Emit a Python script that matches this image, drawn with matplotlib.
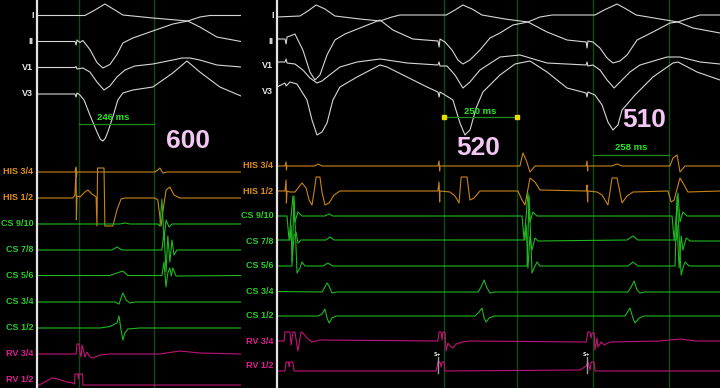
import matplotlib.pyplot as plt

# ---- channels (slot = row position, rows 4 and 5 are left empty) ----
labels = ['I', 'II', 'V1', 'V3', 'HIS 3/4', 'HIS 1/2', 'CS 9/10', 'CS 7/8',
          'CS 5/6', 'CS 3/4', 'CS 1/2', 'RV 3/4', 'RV 1/2']
slots = [0, 1, 2, 3, 6, 7, 8, 9, 10, 11, 12, 13, 14]

# ---- left panel traces: (time ms, amplitude a.u.) ----
L_I = [(0, 0), (163, 0), (197, 5.5), (231, 11.5), (265, 5.5), (292, 0.5), (394, -2.5),
       (513, -5.5), (554, -1.5), (588, 0), (694, 0)]
L_II = [(0, 0), (129, 0), (133, -3.5), (136, 1.5), (146, -1), (156, 1), (180, -8), (204, -21),
        (224, -26.5), (248, -23), (272, -13), (292, -1.5), (326, 3.5), (394, 10.5), (462, 17.5),
        (513, 20.5), (554, 14.5), (612, 4.5), (694, 0)]
L_V1 = [(0, 0), (129, 0), (133, 1), (136, -1.5), (156, -0.5), (180, -4.5), (204, -14.5),
        (228, -22.5), (248, -18.5), (272, -9.5), (299, -2.5), (333, 1.5), (394, 3.5), (462, 7.5),
        (493, 9.5), (520, 9.5), (554, 7.5), (612, 2.5), (694, 0.5)]
L_V3 = [(0, -0.5), (129, -0.5), (133, -3.5), (136, 0.5), (146, -1.5), (160, -6.5), (180, -21.5),
        (204, -38.5), (216, -46), (224, -47.5), (232, -45), (241, -38.5), (258, -23.5),
        (275, -6.5), (292, 0.5), (326, 3.5), (394, 6.5), (462, 20.5), (510, 32.5), (554, 21.5),
        (622, 6.5), (694, -2.5)]
L_HIS34 = [(0, -0.5), (129, -0.5), (133, 4.5), (134, -5.5), (136, -0.5), (401, -0.5),
           (411, 1.5), (418, 3.5), (428, -1.5), (442, -0.5), (694, -0.5)]
L_HIS12 = [(0, -0.5), (122, -0.5), (129, 2.5), (133, 29.5), (134, -22.5), (136, 1.5),
           (146, 0.5), (163, 5.5), (173, 7.5), (187, 3.5), (201, 0.5), (204, -28.5),
           (206, 29.5), (228, 29.5), (231, -28.5), (258, -28.5), (272, -12.5), (286, -1.5),
           (299, -0.5), (401, -0.5), (411, -2.5), (422, -28.5), (428, -14.5), (439, 7.5),
           (452, 10.5), (466, 2.5), (486, -0.5), (694, -0.5)]
L_CS910 = [(0, -0.5), (282, -0.5), (299, 0.5), (316, -0.5), (411, -0.5), (418, -2.5),
           (425, 24.5), (432, -16.5), (439, 3.5), (449, -3.5), (459, -0.5), (694, -0.5)]
L_CS78 = [(0, -0.5), (255, -0.5), (272, 2.5), (289, -0.5), (425, -0.5), (432, 17.5),
          (439, -22.5), (445, 13.5), (452, -12.5), (459, 9.5), (466, -5.5), (476, -0.5),
          (694, -0.5)]
L_CS56 = [(0, 0), (248, 0), (272, 2.5), (292, 4.5), (309, 0), (425, 0), (432, 13.5),
          (439, -11.5), (445, 2.5), (452, 7.5), (457, -0.5), (462, 7.5), (473, -0.5), (694, 0)]
L_CS34 = [(0, -0.5), (265, -0.5), (279, -2.5), (292, 8.5), (303, 1.5), (316, -1.5),
          (333, -0.5), (694, -0.5)]
L_CS12 = [(0, -0.5), (214, -0.5), (248, 1), (272, 4.5), (279, 11.5), (286, -2.5),
          (292, -12.5), (299, -5.5), (309, -1.5), (350, -0.5), (694, -0.5)]
L_RV34 = [(0, -0.5), (133, -0.5), (136, 9.5), (143, 9.5), (146, 1.5), (150, -3.5), (153, 8.5),
          (158, 3.5), (163, -3.5), (170, 1.5), (180, -3.5), (190, -4.5), (214, -1.5),
          (248, -0.5), (418, -0.5), (486, 2.5), (554, 0.5), (694, -0.5)]
L_RV12 = [(0, -6.5), (20, -3.5), (51, 1.5), (71, 0.5), (102, -2.5), (122, -3.5), (128, -4.5),
          (129, 5.5), (139, 5.5), (141, 0.5), (143, 5.5), (155, 5.5), (156, -5.5), (694, -5.5)]

# ---- right panel traces ----
R_I = [(0, -1), (78, 0), (105, 5), (133, 11), (163, 7), (197, 0), (282, -3), (350, -5),
       (391, -1), (418, 1), (575, 1), (605, 6), (632, 11), (663, 7), (697, 1), (775, -3),
       (853, -6), (894, -1), (935, 1), (1081, 1), (1112, 6), (1156, 12), (1187, 7), (1221, 1),
       (1302, -3), (1363, -6), (1404, -2), (1438, 1), (1506, 1)]
R_II = [(0, 2), (27, 2), (31, -3), (34, 4), (44, 5), (61, 7), (88, -9), (112, -31), (129, -39),
        (146, -34), (170, -14), (197, 1), (231, 7), (282, 13), (350, 21), (394, 11), (462, 2),
        (547, 0), (551, -6), (554, 2), (571, -1), (595, -9), (615, -19), (632, -23),
        (656, -19), (690, -9), (724, 3), (758, 8), (802, 16), (853, 19), (918, 9), (986, 1),
        (1051, -1), (1054, -7), (1057, 0), (1074, -1), (1098, -7), (1122, -17), (1142, -22),
        (1166, -20), (1190, -14), (1224, 1), (1278, 9), (1336, 18), (1363, 19), (1414, 13),
        (1506, 8)]
R_V1 = [(0, 4), (27, 4), (31, 7), (34, 3), (61, 2), (88, -4), (112, -12), (136, -17),
        (153, -15), (170, -11), (214, -1), (272, 4), (350, 7), (374, 6), (442, 3), (547, 1),
        (551, 4), (554, 0), (578, 0), (605, -9), (632, -22), (656, -16), (690, -4), (758, 9),
        (826, 11), (918, 3), (1051, 1), (1054, 4), (1057, 0), (1074, 1), (1098, -4),
        (1122, -14), (1146, -22), (1173, -14), (1200, -6), (1234, 1), (1326, 9), (1370, 9),
        (1438, 4), (1506, 2)]
R_V3 = [(0, 4), (27, 8), (31, 5), (44, 9), (68, 7), (102, -9), (119, -29), (136, -44),
        (153, -41), (170, -32), (190, -9), (214, 4), (272, 14), (350, 26), (374, 24), (442, 14),
        (510, 4), (547, -1), (551, -6), (554, -1), (571, -4), (598, -9), (622, -32), (639, -44),
        (656, -39), (677, -17), (700, -1), (758, 16), (809, 27), (860, 30), (918, 19), (986, 3),
        (1051, -2), (1054, -6), (1057, -1), (1081, -4), (1105, -14), (1125, -31), (1142, -39),
        (1159, -34), (1173, -19), (1217, -4), (1278, 14), (1346, 28), (1363, 29), (1428, 19),
        (1506, 11)]
R_HIS34 = [(0, 0), (27, 0), (31, 4), (32, -4), (34, 0), (129, 0), (139, 2), (153, 0), (547, 0),
           (551, 5), (553, -5), (554, 0), (826, 0), (836, 13), (847, 6), (860, -6), (877, 0),
           (1051, 0), (1054, 5), (1056, -5), (1057, 0), (1139, 0), (1156, 2), (1173, 0),
           (1336, 0), (1346, 8), (1360, 11), (1370, -6), (1387, 0), (1506, 0)]
R_HIS12 = [(0, 0), (27, 0), (31, 11), (32, -12), (34, 0), (44, -1), (61, -1), (85, 8), (99, 3),
           (109, -9), (119, -14), (129, 5), (133, 14), (146, 14), (153, -1), (163, -14),
           (177, -12), (194, -4), (214, 0), (547, 0), (551, 9), (553, -11), (554, 0), (588, -1),
           (605, -5), (619, -12), (626, 14), (646, 14), (656, -9), (670, -7), (690, 0), (819, 0),
           (833, -9), (843, -14), (860, 13), (877, 9), (894, 1), (1051, 0), (1054, 6),
           (1056, -11), (1057, 0), (1088, -1), (1105, -4), (1125, -14), (1139, 13), (1156, 13),
           (1173, -12), (1190, -5), (1210, -1), (1329, 0), (1340, -11), (1350, -9), (1370, 13),
           (1384, 6), (1397, -1), (1506, 0)]
R_CS910 = [(0, 0), (34, 0), (41, -24), (48, 0), (54, 20), (61, -6), (71, 4), (85, 0), (163, 0),
           (177, 2), (190, 0), (833, 0), (840, -24), (847, 0), (853, 23), (860, -6), (870, 4),
           (884, 0), (1343, 0), (1350, -24), (1357, 0), (1363, 23), (1370, -6), (1380, 4),
           (1394, 0), (1506, 0)]
R_CS78 = [(0, 1), (44, 1), (48, 16), (51, -21), (58, 5), (65, 9), (71, -2), (82, 1), (167, 1),
          (180, 4), (194, 1), (843, 1), (847, 16), (853, -27), (860, 5), (867, -9), (877, 3),
          (887, 0), (1190, 1), (1210, 5), (1227, 1), (1357, 1), (1360, 16), (1367, -27),
          (1374, 5), (1380, -9), (1391, 3), (1404, 0), (1506, 0)]
R_CS56 = [(0, 0), (51, 0), (58, 70), (68, -7), (78, -2), (85, 4), (95, 0), (156, 0), (173, 3),
          (190, 0), (850, 0), (857, 70), (867, -7), (874, -2), (884, 4), (894, 0), (1193, 0),
          (1210, 4), (1227, 0), (1353, 0), (1360, 70), (1374, -9), (1380, -2), (1387, 4),
          (1401, 0), (1506, 0)]
R_CS34 = [(0, -0.5), (153, -1), (163, 4), (170, 8), (177, 5), (187, -2), (201, -1), (683, -1),
          (694, 4), (704, 11), (714, 3), (724, -2), (741, -1), (1193, -1), (1204, 4), (1214, 10),
          (1224, 1), (1234, -2), (1251, -1), (1506, -1)]
R_CS12 = [(0, 0), (139, 0), (153, 2), (163, 7), (170, -2), (177, -7), (187, -2), (201, 0),
          (673, 0), (687, 4), (697, 8), (704, -2), (711, -6), (721, -2), (738, 0), (1183, 0),
          (1200, 8), (1210, -2), (1217, -7), (1231, -2), (1248, 0), (1506, 0)]
R_RV34 = [(0, 0), (24, 0), (27, 9), (44, 9), (48, -4), (54, 9), (61, 9), (71, -10), (82, 9),
          (88, 8), (102, 3), (119, -1), (146, 1), (547, 0), (551, 9), (558, 9), (561, 1), (564, 9),
          (571, 9), (575, -10), (581, -2), (588, -5), (598, -7), (609, -3), (629, -1), (656, 0),
          (1051, -1), (1057, 9), (1064, 9), (1068, 3), (1071, 8), (1078, 8), (1081, -9),
          (1088, 3), (1091, -6), (1102, -1), (1112, -4), (1132, -1), (1302, 0), (1370, 2),
          (1421, 0), (1506, 0)]
R_RV12 = [(0, -5), (27, -5), (31, 4), (39, 4), (41, -1), (44, 4), (54, 4), (58, -5), (541, -5),
          (547, 4), (554, 4), (558, -1), (561, 4), (568, 4), (571, -5), (1030, -4), (1051, 0),
          (1057, 4), (1064, -4), (1068, 4), (1078, 4), (1081, -5), (1506, -5)]

left_traces = [L_I, L_II, L_V1, L_V3, L_HIS34, L_HIS12, L_CS910, L_CS78, L_CS56, L_CS34,
               L_CS12, L_RV34, L_RV12]
right_traces = [R_I, R_II, R_V1, R_V3, R_HIS34, R_HIS12, R_CS910, R_CS78, R_CS56, R_CS34,
                R_CS12, R_RV34, R_RV12]

# calipers / markers (ms)
left_marks = [143, 398]
right_marks = [568, 816, 1074, 1333]
pace_times = [547, 1054]

trace_col = {'ECG': '#d6d6d6', 'HIS': '#c98418', 'CS': '#1fb81f', 'RV': '#bf1477'}
label_col = {'ECG': '#e8e8e8', 'HIS': '#e0901c', 'CS': '#2ccc2c', 'RV': '#dd2090'}


def group(name):
    if name.startswith('HIS'):
        return 'HIS'
    if name.startswith('CS'):
        return 'CS'
    if name.startswith('RV'):
        return 'RV'
    return 'ECG'


fig = plt.figure(figsize=(7.2, 3.88), dpi=100, facecolor='black')
ax_l = fig.add_axes([37 / 720, 0, 204 / 720, 1])
ax_r = fig.add_axes([277 / 720, 0, 443 / 720, 1])


def setup(ax, tmax, first, spacing, traces, marks):
    ax.set_facecolor('black')
    ax.set_xlim(0, tmax)
    ax.set_ylim(-388, 0)
    ax.set_xticks([])
    ax.set_yticks([])
    for s in ['top', 'right', 'bottom']:
        ax.spines[s].set_visible(False)
    ax.spines['left'].set_color('#e4e4e4')
    ax.spines['left'].set_linewidth(1.6)
    for m in marks:
        ax.axvline(m, color='#0d4f0d', lw=1.0, zorder=1)
    for name, slot, pts in zip(labels, slots, traces):
        base = -(first + slot * spacing)
        g = group(name)
        ts = [p[0] for p in pts]
        vs = [base + p[1] for p in pts]
        ax.plot(ts, vs, color=trace_col[g], lw=0.8, zorder=2)
        ax.annotate(name, xy=(0, base), xytext=(-2.6, 0), textcoords='offset points',
                    ha='right', va='center', fontsize=6.5, fontweight='bold',
                    family='Liberation Sans', color=label_col[g], annotation_clip=False)


setup(ax_l, 694, 15.5, 26.0, left_traces, left_marks)
setup(ax_r, 1506, 16, 25.0, right_traces, right_marks)

big = dict(fontsize=19, fontweight='bold', family='Liberation Sans', color='#f3c6f3',
           ha='center', va='center', zorder=4)
cal = dict(fontsize=6.8, fontweight='bold', family='Liberation Sans', color='#26e626',
           ha='center', va='center', zorder=4)

# left panel annotations
ax_l.plot(left_marks, [-124, -124], color='#1c8c1c', lw=0.9, zorder=3)
ax_l.text(258, -117, '246 ms', **cal)
ax_l.text(513, -141, '600', **big)

# right panel annotations
ax_r.plot(right_marks[:2], [-117, -117], color='#1c8c1c', lw=0.9, zorder=3)
ax_r.plot(right_marks[:2], [-117, -117], ls='none', marker='s', ms=3.5,
          color='#e8dc00', zorder=4)
ax_r.text(690, -111, '250 ms', **cal)
ax_r.plot(right_marks[2:], [-155, -155], color='#1c8c1c', lw=0.9, zorder=3)
ax_r.text(1203, -148, '258 ms', **cal)
ax_r.text(683, -148, '520', **big)
ax_r.text(1248, -120, '510', **big)

for t in pace_times:
    ax_r.plot([t, t], [-357, -373], color='#9a9a9a', lw=1.0, zorder=3)
    ax_r.text(t - 3, -354, 'S+', fontsize=3.4, fontweight='bold', color='#f0f0f0',
              ha='center', va='center', zorder=5)

fig.savefig('out.png', dpi=100, facecolor='black')
